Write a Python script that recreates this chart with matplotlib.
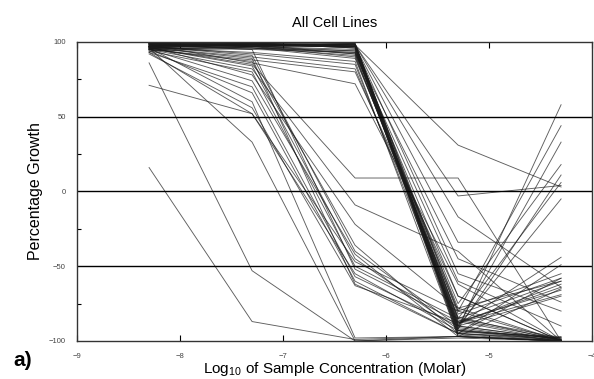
import numpy as np
import matplotlib.pyplot as plt

plt.rcParams['font.family'] = ['Liberation Sans', 'DejaVu Sans']
plt.rcParams['mathtext.fontset'] = 'custom'
plt.rcParams['mathtext.rm'] = 'Liberation Sans'

# log10 molar concentrations tested
log_conc = [-8.3, -7.3, -6.3, -5.3, -4.3]

# percentage growth for each cell line at the five concentrations
top_bundle = [
    [99, 99, 98, -93, -100],
    [98, 99, 97, -90, -99],
    [97, 98, 98, -95, -100],
    [99, 98, 92, -88, -62],
    [96, 99, 97, -85, -98],
    [98, 97, 95, -92, 58],
    [97, 99, 98, -80, 44],
    [99, 98, 97, -96, -100],
    [95, 97, 90, -78, -60],
    [98, 96, 94, -86, -99],
    [97, 98, 99, -90, 33],
    [99, 97, 97, -94, -97],
    [96, 98, 98, -82, -58],
    [98, 99, 96, -97, -100],
    [94, 96, 89, -75, 18],
    [99, 98, 97, -88, -69],
    [97, 99, 98, -3, 4],
    [98, 97, 98, -17, -64],
    [96, 98, 97, -34, -34],
    [99, 99, 98, 31, 3],
    [95, 97, 92, -60, -90],
    [98, 96, 93, -45, -74],
    [97, 98, 99, -92, 11],
    [99, 97, 98, -95, -49],
    [96, 96, 91, -84, -100],
    [98, 99, 96, -89, -44],
    [97, 98, 97, -93, -98],
    [99, 98, 99, -85, 6],
    [98, 97, 94, -91, -100],
    [97, 99, 96, -87, -66],
    [96, 95, 93, -70, -100],
    [98, 98, 97, -55, -80],
]
sagging = [
    [97, 92, 85, -90, -99],
    [96, 90, 82, -80, -55],
    [95, 88, 80, -70, -100],
    [96, 93, 87, -97, -65],
    [98, 86, 72, -62, -100],
]
middle = [
    [95, 87, -36, -95, -98],
    [96, 84, -45, -92, -100],
    [94, 80, -50, -85, -60],
    [95, 74, -42, -97, -100],
    [93, 70, -57, -90, -5],
    [94, 66, -60, -95, -99],
    [92, 56, -63, -88, -64],
    [93, 52, -47, -80, -100],
    [71, 52, -55, -93, -98],
    [96, 85, 9, 9, -100],
    [95, 82, -9, -40, -100],
    [97, 91, -40, -90, -70],
    [98, 95, -52, -87, -100],
    [96, 89, -62, -95, -58],
    [97, 78, -22, -78, -100],
]
sensitive = [
    [96, 60, -98, -97, -100],
    [96, 33, -100, -97, -100],
    [86, -53, -100, -98, -100],
    [16, -87, -99, -97, -100],
]

cell_lines = top_bundle + sagging + middle + sensitive

fig = plt.figure(figsize=(5.94, 3.79), dpi=100)
ax = fig.add_axes([0.1296, 0.1003, 0.867, 0.789])

for growth in cell_lines:
    ax.plot(log_conc, growth, color='#1a1a1a', lw=0.65, alpha=0.7)

for level in (50, 0, -50):
    ax.axhline(level, color='black', lw=1.0)

ax.set_xlim(-9, -4)
ax.set_ylim(-100, 100)
ax.set_xticks([-9, -8, -7, -6, -5, -4])
ax.set_yticks([-100, -50, 0, 50, 100])
ax.set_yticks([-75, -25, 25, 75], minor=True)
ax.tick_params(axis='x', which='major', direction='in', length=4, top=True,
               labelsize=5.5, labelcolor='#444444', pad=9, width=0.8)
ax.tick_params(axis='y', which='major', length=0, labelsize=5.5,
               labelcolor='#444444', pad=8)
ax.tick_params(axis='y', which='minor', direction='in', length=3, width=0.8)
for s in ax.spines.values():
    s.set_linewidth(1.0)
    s.set_color('#333333')

ax.set_title('All Cell Lines', fontsize=10.5, pad=11)
ax.set_ylabel('Percentage Growth', fontsize=11.5, labelpad=4)
ax.set_xlabel(r'Log$_{10}$ of Sample Concentration (Molar)', fontsize=11, labelpad=0)
fig.text(0.022, 0.035, 'a)', fontsize=15, fontweight='bold')

fig.savefig('out.png', dpi=100)
